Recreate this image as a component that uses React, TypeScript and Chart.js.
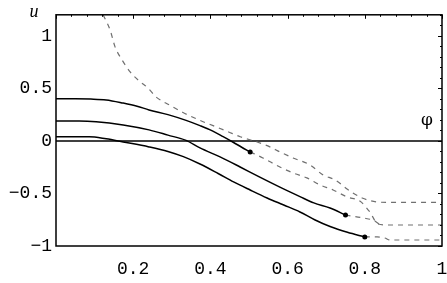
import React, { useEffect, useRef } from "react";
import { Chart, registerables } from "chart.js";

Chart.register(...registerables);

// Tick values
const xTickValues = [0.2, 0.4, 0.6, 0.8, 1];
const yTickValues = [-1, -0.5, 0, 0.5, 1];

// Solid curves (phi, u)
const s1Phi = [0, 0.05, 0.09, 0.13, 0.174, 0.21, 0.241, 0.29, 0.337, 0.373, 0.405, 0.433, 0.46, 0.48, 0.503];
const s1U = [0.4, 0.4, 0.398, 0.39, 0.36, 0.33, 0.295, 0.25, 0.195, 0.145, 0.095, 0.04, -0.015, -0.058, -0.105];

const s2Phi = [0, 0.06, 0.104, 0.174, 0.241, 0.29, 0.337, 0.373, 0.425, 0.477, 0.528, 0.58, 0.632, 0.668, 0.71, 0.75];
const s2U = [0.19, 0.19, 0.183, 0.152, 0.105, 0.055, 0.005, -0.067, -0.152, -0.248, -0.345, -0.44, -0.53, -0.59, -0.638, -0.705];

const s3Phi = [0, 0.086, 0.13, 0.174, 0.241, 0.29, 0.33, 0.373, 0.42, 0.46, 0.503, 0.547, 0.59, 0.632, 0.67, 0.71, 0.755, 0.8];
const s3U = [0.04, 0.04, 0.02, -0.01, -0.057, -0.1, -0.15, -0.22, -0.31, -0.39, -0.467, -0.543, -0.61, -0.676, -0.75, -0.815, -0.87, -0.914];

// Dashed curves (phi, u)
const d1Phi = [0.122, 0.14, 0.153, 0.171, 0.192, 0.218, 0.238, 0.259, 0.293, 0.329, 0.373, 0.407, 0.443, 0.477, 0.521, 0.554, 0.58, 0.614, 0.658, 0.692, 0.723, 0.754, 0.769, 0.793, 0.832, 0.865, 1];
const d1U = [1.2, 1.057, 0.895, 0.771, 0.657, 0.562, 0.505, 0.419, 0.343, 0.27, 0.195, 0.145, 0.092, 0.04, -0.01, -0.057, -0.105, -0.162, -0.229, -0.324, -0.371, -0.457, -0.495, -0.543, -0.581, -0.585, -0.585];

const d2Phi = [0.503, 0.536, 0.58, 0.614, 0.65, 0.684, 0.718, 0.754, 0.788, 0.813, 0.834, 0.865, 1];
const d2U = [-0.105, -0.162, -0.248, -0.305, -0.352, -0.419, -0.467, -0.533, -0.575, -0.676, -0.79, -0.8, -0.8];

const d3Phi = [0.75, 0.795, 0.825, 0.84];
const d3U = [-0.705, -0.733, -0.76, -0.8];

const d4Phi = [0.8, 0.832, 0.852, 0.865, 1];
const d4U = [-0.914, -0.914, -0.924, -0.943, -0.943];

// Marked points
const dotPhi = [0.503, 0.75, 0.8];
const dotU = [-0.105, -0.705, -0.914];

const zip = (xs: number[], ys: number[]) => xs.map((x, i) => ({ x, y: ys[i] }));

const framePlugin = {
  id: "frame",
  afterDraw(chart: any) {
    const { ctx, chartArea, scales } = chart;
    const xs = scales.x;
    const ys = scales.y;
    ctx.save();
    ctx.strokeStyle = "#000";
    ctx.lineWidth = 1.5;
    ctx.strokeRect(chartArea.left, chartArea.top, chartArea.right - chartArea.left, chartArea.bottom - chartArea.top);
    ctx.lineWidth = 1;
    ctx.beginPath();
    for (let i = 0; i <= 25; i++) {
      const v = i * 0.04;
      const px = Math.round(xs.getPixelForValue(v)) + 0.5;
      const len = i % 5 === 0 ? 4 : 2;
      ctx.moveTo(px, chartArea.top);
      ctx.lineTo(px, chartArea.top + len);
    }
    for (let i = -10; i <= 12; i++) {
      const v = i * 0.1;
      const py = Math.round(ys.getPixelForValue(v)) + 0.5;
      const len = i % 5 === 0 ? 4 : 2;
      ctx.moveTo(chartArea.right, py);
      ctx.lineTo(chartArea.right - len, py);
    }
    ctx.stroke();
    ctx.fillStyle = "#000";
    ctx.textAlign = "center";
    ctx.textBaseline = "middle";
    ctx.font = "italic 18px 'Liberation Serif', serif";
    ctx.fillText("u", 34, 12);
    ctx.font = "17px 'DejaVu Serif', serif";
    ctx.fillText("φ", 427, 121);
    ctx.restore();
  },
};

export default function App() {
  const ref = useRef<HTMLCanvasElement | null>(null);
  useEffect(() => {
    document.body.style.margin = "0";
    const canvas = ref.current!;
    const solid = (data: any[]) => ({
      data,
      showLine: true,
      borderColor: "#000",
      borderWidth: 1.5,
      pointRadius: 0,
      cubicInterpolationMode: "monotone",
      fill: false,
    });
    const dashed = (data: any[]) => ({
      data,
      showLine: true,
      borderColor: "#707070",
      borderWidth: 1.2,
      borderDash: [5, 5],
      pointRadius: 0,
      cubicInterpolationMode: "monotone",
      fill: false,
    });
    const chart = new Chart(canvas, {
      type: "scatter",
      data: {
        datasets: [
          {
            data: zip(dotPhi, dotU),
            showLine: false,
            pointRadius: 2.5,
            pointBackgroundColor: "#000",
            pointBorderColor: "#000",
            pointBorderWidth: 0,
          } as any,
          solid(zip(s1Phi, s1U)),
          solid(zip(s2Phi, s2U)),
          solid(zip(s3Phi, s3U)),
          dashed(zip(d1Phi, d1U)),
          dashed(zip(d2Phi, d2U)),
          dashed(zip(d3Phi, d3U)),
          dashed(zip(d4Phi, d4U)),
          { ...solid([{ x: 0, y: 0 }, { x: 1, y: 0 }]), cubicInterpolationMode: "default", tension: 0 },
        ],
      },
      options: {
        animation: false,
        responsive: false,
        maintainAspectRatio: false,
        layout: { padding: { top: 14, right: 0, left: 0, bottom: 0 } },
        plugins: { legend: { display: false }, tooltip: { enabled: false } },
        scales: {
          x: {
            type: "linear",
            min: 0,
            max: 1,
            grid: { display: false, drawTicks: false },
            border: { display: false },
            afterBuildTicks: (s: any) => {
              s.ticks = xTickValues.map((v) => ({ value: v }));
            },
            afterFit: (s: any) => {
              s.height = 37;
              s.paddingRight = 5;
              s.paddingLeft = 0;
            },
            ticks: {
              padding: 12,
              color: "#000",
              maxRotation: 0,
              font: { family: "'Liberation Mono', monospace", size: 18 },
              callback: (v: any) => String(v),
            },
          },
          y: {
            type: "linear",
            min: -1,
            max: 1.2,
            grid: { display: false, drawTicks: false },
            border: { display: false },
            afterBuildTicks: (s: any) => {
              s.ticks = yTickValues.map((v) => ({ value: v }));
            },
            afterFit: (s: any) => {
              s.width = 56;
            },
            ticks: {
              padding: 4,
              color: "#000",
              font: { family: "'Liberation Mono', monospace", size: 18 },
              callback: (v: any) => String(v).replace("-", "−"),
            },
          },
        },
      },
      plugins: [framePlugin],
    } as any);
    return () => chart.destroy();
  }, []);
  return (
    <div style={{ width: 447, height: 283 }}>
      <canvas ref={ref} width={447} height={283} />
    </div>
  );
}
